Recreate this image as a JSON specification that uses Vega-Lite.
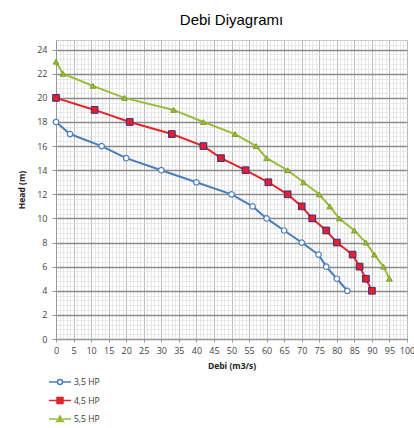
{
  "$schema": "https://vega.github.io/schema/vega-lite/v6.json",
  "autosize": {"type": "none"},
  "width": 351,
  "height": 299,
  "padding": {"left": 56, "top": 40, "right": 7, "bottom": 89},
  "background": "white",
  "title": {"text": "Debi Diyagramı", "font": "Liberation Sans", "fontSize": 15, "fontWeight": "normal", "color": "#000", "anchor": "middle", "offset": 12},
  "config": {
    "view": {"stroke": "#c8c8c8"},
    "axis": {"labelFont": "Open Sans", "labelFontSize": 9, "labelColor": "#444", "titleFont": "Open Sans", "titleFontSize": 8.5, "titleFontWeight": "bold", "titleColor": "#222"}
  },
  "data": {"values": [
    {"series": "3,5 HP", "q": 0, "h": 18},
    {"series": "3,5 HP", "q": 4, "h": 17},
    {"series": "3,5 HP", "q": 13, "h": 16},
    {"series": "3,5 HP", "q": 20, "h": 15},
    {"series": "3,5 HP", "q": 30, "h": 14},
    {"series": "3,5 HP", "q": 40, "h": 13},
    {"series": "3,5 HP", "q": 50, "h": 12},
    {"series": "3,5 HP", "q": 56, "h": 11},
    {"series": "3,5 HP", "q": 60, "h": 10},
    {"series": "3,5 HP", "q": 65, "h": 9},
    {"series": "3,5 HP", "q": 70, "h": 8},
    {"series": "3,5 HP", "q": 74.8, "h": 7},
    {"series": "3,5 HP", "q": 77, "h": 6},
    {"series": "3,5 HP", "q": 80, "h": 5},
    {"series": "3,5 HP", "q": 83, "h": 4},
    {"series": "4,5 HP", "q": 0, "h": 20},
    {"series": "4,5 HP", "q": 11, "h": 19},
    {"series": "4,5 HP", "q": 21, "h": 18},
    {"series": "4,5 HP", "q": 33, "h": 17},
    {"series": "4,5 HP", "q": 42, "h": 16},
    {"series": "4,5 HP", "q": 47, "h": 15},
    {"series": "4,5 HP", "q": 54, "h": 14},
    {"series": "4,5 HP", "q": 60.5, "h": 13},
    {"series": "4,5 HP", "q": 66, "h": 12},
    {"series": "4,5 HP", "q": 70, "h": 11},
    {"series": "4,5 HP", "q": 73, "h": 10},
    {"series": "4,5 HP", "q": 77, "h": 9},
    {"series": "4,5 HP", "q": 80, "h": 8},
    {"series": "4,5 HP", "q": 84.5, "h": 7},
    {"series": "4,5 HP", "q": 86.5, "h": 6},
    {"series": "4,5 HP", "q": 88.3, "h": 5},
    {"series": "4,5 HP", "q": 90, "h": 4},
    {"series": "5,5 HP", "q": 0, "h": 23},
    {"series": "5,5 HP", "q": 2, "h": 22},
    {"series": "5,5 HP", "q": 10.5, "h": 21},
    {"series": "5,5 HP", "q": 19.5, "h": 20},
    {"series": "5,5 HP", "q": 33.5, "h": 19},
    {"series": "5,5 HP", "q": 42, "h": 18},
    {"series": "5,5 HP", "q": 51, "h": 17},
    {"series": "5,5 HP", "q": 57, "h": 16},
    {"series": "5,5 HP", "q": 60, "h": 15},
    {"series": "5,5 HP", "q": 66, "h": 14},
    {"series": "5,5 HP", "q": 70.5, "h": 13},
    {"series": "5,5 HP", "q": 75, "h": 12},
    {"series": "5,5 HP", "q": 78, "h": 11},
    {"series": "5,5 HP", "q": 80.7, "h": 10},
    {"series": "5,5 HP", "q": 85, "h": 9},
    {"series": "5,5 HP", "q": 88.3, "h": 8},
    {"series": "5,5 HP", "q": 90.7, "h": 7},
    {"series": "5,5 HP", "q": 93.3, "h": 6},
    {"series": "5,5 HP", "q": 95, "h": 5}
  ]},
  "resolve": {"axis": {"x": "independent", "y": "independent"}},
  "layer": [
    {
      "mark": {"type": "point", "opacity": 0},
      "encoding": {
        "x": {"field": "q", "type": "quantitative", "scale": {"domain": [0, 100], "nice": false},
          "axis": {"orient": "bottom", "values": [0,1,2,3,4,5,6,7,8,9,10,11,12,13,14,15,16,17,18,19,20,21,22,23,24,25,26,27,28,29,30,31,32,33,34,35,36,37,38,39,40,41,42,43,44,45,46,47,48,49,50,51,52,53,54,55,56,57,58,59,60,61,62,63,64,65,66,67,68,69,70,71,72,73,74,75,76,77,78,79,80,81,82,83,84,85,86,87,88,89,90,91,92,93,94,95,96,97,98,99,100], "grid": true, "gridColor": "#e0e0e0", "gridWidth": 0.7, "labels": false, "ticks": false, "domain": false, "title": null}},
        "y": {"field": "h", "type": "quantitative", "scale": {"domain": [0, 24.8], "nice": false},
          "axis": {"orient": "left", "values": [0,0.4,0.8,1.2,1.6,2,2.4,2.8,3.2,3.6,4,4.4,4.8,5.2,5.6,6,6.4,6.8,7.2,7.6,8,8.4,8.8,9.2,9.6,10,10.4,10.8,11.2,11.6,12,12.4,12.8,13.2,13.6,14,14.4,14.8,15.2,15.6,16,16.4,16.8,17.2,17.6,18,18.4,18.8,19.2,19.6,20,20.4,20.8,21.2,21.6,22,22.4,22.8,23.2,23.6,24,24.4], "grid": true, "gridColor": "#e0e0e0", "gridWidth": 0.7, "labels": false, "ticks": false, "domain": false, "title": null}}
      }
    },
    {
      "mark": {"type": "line", "strokeWidth": 2},
      "encoding": {
        "x": {"field": "q", "type": "quantitative",
          "axis": {"orient": "bottom", "values": [0,5,10,15,20,25,30,35,40,45,50,55,60,65,70,75,80,85,90,95,100], "labelOverlap": false, "labelFlush": false, "grid": true, "gridColor": "#b0b0b0", "gridWidth": 0.8, "ticks": true, "tickSize": 3, "tickColor": "#999", "domain": true, "domainColor": "#999", "labelPadding": 4, "title": "Debi (m3/s)", "titlePadding": 6}},
        "y": {"field": "h", "type": "quantitative",
          "axis": {"orient": "left", "values": [0,2,4,6,8,10,12,14,16,18,20,22,24], "grid": true, "gridColor": "#8a8a8a", "gridWidth": 1.3, "ticks": true, "tickSize": 4, "tickColor": "#999", "domain": true, "domainColor": "#999", "labelPadding": 5, "title": "Head (m)", "titlePadding": 10}},
        "color": {"field": "series", "type": "nominal",
          "scale": {"domain": ["3,5 HP", "4,5 HP", "5,5 HP"], "range": ["#4a7ebb", "#e3242b", "#9bbb3b"]},
          "legend": {"orient": "none", "legendX": -7, "legendY": 331, "title": null, "direction": "vertical",
            "symbolSize": 400, "rowPadding": 1.5, "labelOffset": 3, "labelFont": "Open Sans", "labelFontSize": 8.5, "labelColor": "#333",
            "symbolStrokeWidth": 1.5,
            "encode": {"symbols": {"update": {
              "shape": {"signal": "datum.value === '3,5 HP' ? 'M-1.1,0L-0.25,0M0.25,0L1.1,0M-0.25,0A0.25,0.25,0,1,1,0.25,0A0.25,0.25,0,1,1,-0.25,0Z' : datum.value === '4,5 HP' ? 'M-1.1,0L-0.3,0M0.3,0L1.1,0M-0.3,-0.3L0.3,-0.3L0.3,0.3L-0.3,0.3Z' : 'M-1.1,0L-0.32,0M0.32,0L1.1,0M0,-0.3L0.34,0.26L-0.34,0.26Z'"},
              "fill": {"signal": "datum.value === '3,5 HP' ? 'white' : datum.value === '4,5 HP' ? '#e3242b' : '#9bbb3b'"},
              "stroke": {"signal": "datum.value === '3,5 HP' ? '#4a7ebb' : datum.value === '4,5 HP' ? '#e3242b' : '#9bbb3b'"},
              "strokeWidth": {"value": 1.5},
              "opacity": {"value": 1},
              "fillOpacity": {"value": 1}
            }}}
          }}
      }
    },
    {
      "transform": [{"filter": "datum.series === '3,5 HP'"}],
      "mark": {"type": "point", "shape": "circle", "filled": true, "fill": "white", "stroke": "#4a7ebb", "strokeWidth": 1.2, "size": 30, "opacity": 1},
      "encoding": {
        "x": {"field": "q", "type": "quantitative", "axis": null},
        "y": {"field": "h", "type": "quantitative", "axis": null}
      }
    },
    {
      "transform": [{"filter": "datum.series === '4,5 HP'"}],
      "mark": {"type": "point", "shape": "square", "filled": true, "fill": "#e3202b", "stroke": "#3d2d80", "strokeWidth": 1, "size": 45, "opacity": 1},
      "encoding": {
        "x": {"field": "q", "type": "quantitative", "axis": null},
        "y": {"field": "h", "type": "quantitative", "axis": null}
      }
    },
    {
      "transform": [{"filter": "datum.series === '5,5 HP'"}],
      "mark": {"type": "point", "shape": "triangle-up", "filled": true, "fill": "#9bbb3b", "stroke": "#7f9f2a", "strokeWidth": 1, "size": 32, "opacity": 1},
      "encoding": {
        "x": {"field": "q", "type": "quantitative", "axis": null},
        "y": {"field": "h", "type": "quantitative", "axis": null}
      }
    }
  ]
}
